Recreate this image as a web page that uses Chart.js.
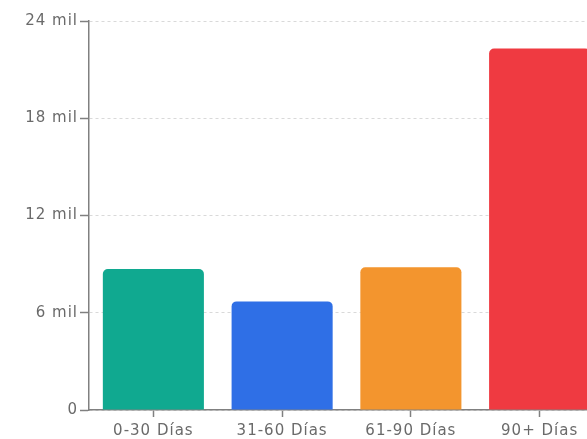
<!DOCTYPE html>
<html>
<head>
<meta charset="utf-8">
<script src="https://cdn.jsdelivr.net/npm/chart.js@4/dist/chart.umd.min.js"></script>
<style>
  html, body { margin: 0; padding: 0; background: #fff; overflow: hidden; }
  #wrap { width: 610px; height: 439px; }
</style>
</head>
<body>
<div id="wrap"><canvas id="chart"></canvas></div>
<script>
const categories = ["0-30 Días", "31-60 Días", "61-90 Días", "90+ Días"];
const amounts = [8700, 6700, 8800, 22300];
const barColors = ["#10a990", "#2f6fe6", "#f3952e", "#ef3a41"];
const yTicks = [0, 6000, 12000, 18000, 24000];

const tickFont = { family: "DejaVu Sans", size: 15 };

// wider letter spacing like the original
const spacing = {
  id: "spacing",
  beforeDraw(chart) { chart.ctx.letterSpacing = "1px"; }
};

const ctx = document.getElementById("chart").getContext("2d");
new Chart(ctx, {
  type: "bar",
  data: {
    labels: categories,
    datasets: [{
      data: amounts,
      backgroundColor: barColors,
      borderRadius: { topLeft: 5, topRight: 5 },
      borderSkipped: "bottom",
      categoryPercentage: 0.785,
      barPercentage: 1
    }]
  },
  options: {
    responsive: true,
    maintainAspectRatio: false,
    animation: false,
    layout: { padding: { top: 21, right: 6, left: 0, bottom: 0 } },
    plugins: { legend: { display: false }, tooltip: { enabled: false } },
    scales: {
      x: {
        grid: { offset: false, drawOnChartArea: false, tickLength: 7, tickWidth: 1.5, tickColor: "#808080", color: "#808080" },
        border: { color: "#808080", width: 1.5 },
        ticks: { color: "#6a6a6a", font: tickFont, padding: 5 },
        afterFit: s => { s.height = 29; }
      },
      y: {
        min: 0,
        max: 24000,
        afterBuildTicks: s => { s.ticks = yTicks.map(v => ({ value: v })); },
        grid: { color: "#d9d9d9", tickColor: "#808080", tickLength: 9, tickWidth: 1.5, tickBorderDash: [] },
        border: { color: "#808080", width: 1.5, dash: [3, 3] },
        ticks: {
          color: "#6a6a6a",
          font: tickFont,
          padding: 2,
          callback: v => v === 0 ? "0" : (v / 1000) + " mil"
        },
        afterFit: s => { s.width = 89; }
      }
    }
  },
  plugins: [spacing]
});
</script>
</body>
</html>
